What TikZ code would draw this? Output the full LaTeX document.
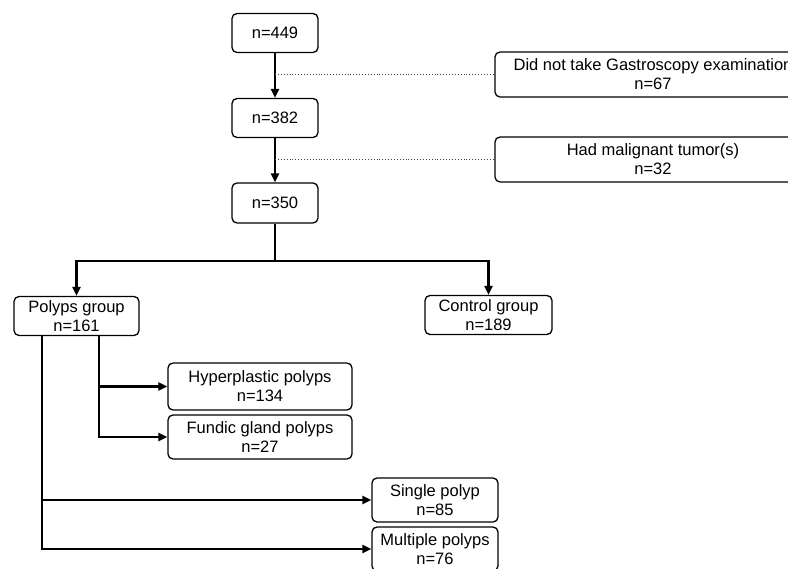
\documentclass[tikz,border=0pt]{standalone}
\usepackage{fontspec}
\setmainfont{Liberation Sans}
\usetikzlibrary{arrows.meta}
\tikzset{
	box/.style={draw, rounded corners=5pt, line width=1.3pt, align=center, inner sep=0pt, font=\fontsize{16.5}{19}\selectfont},
	arr/.style={line width=2.5pt, -{Triangle[length=9pt,width=8pt]}},
	trunk/.style={line width=2.5pt},
	dotline/.style={dotted, line width=0.9pt, black!75}
}

\begin{document}
\begin{tikzpicture}[x=1pt, y=-1pt]
			%%%%% START %%%%%
			\useasboundingbox (0,0) rectangle (788,569);
			
			\node[box, minimum width=86pt, minimum height=39pt] (n449) at (275,33) {n=449};
			\node[box, minimum width=86pt, minimum height=39pt] (n382) at (275,118) {n=382};
			\node[box, minimum width=86pt, minimum height=40pt] (n350) at (275,203) {n=350};
			
			\node[box, minimum width=316pt, minimum height=45pt] (nogastro) at (653,74.5) {Did not take Gastroscopy examination\\n=67};
			\node[box, minimum width=316pt, minimum height=45pt] (tumor) at (653,159.5) {Had malignant tumor(s)\\n=32};
			
			\node[box, minimum width=125pt, minimum height=39pt] (polyps) at (76.5,316) {Polyps group\\n=161};
			\node[box, minimum width=127pt, minimum height=39pt] (control) at (488.5,315) {Control group\\n=189};
			
			\node[box, minimum width=184pt, minimum height=47pt] (hyper) at (260,386.5) {Hyperplastic polyps\\n=134};
			\node[box, minimum width=184pt, minimum height=44pt] (fundic) at (260,437) {Fundic gland polyps\\n=27};
			
			\node[box, minimum width=126pt, minimum height=44pt] (single) at (435,500) {Single polyp\\n=85};
			\node[box, minimum width=126pt, minimum height=44pt] (multi) at (435,549) {Multiple polyps\\n=76};
			
			% main trunk
			\draw[arr] (n449) -- (n382);
			\draw[arr] (n382) -- (n350);
			\draw[dotline] (n449.south |- nogastro.west) -- (nogastro.west);
			\draw[dotline] (n382.south |- tumor.west) -- (tumor.west);
			
			\coordinate (fork) at (275,261);
			\draw[trunk] (n350.south) -- (fork);
			\draw[arr] (fork) -| (polyps.north);
			\draw[arr] (fork) -| (control.north);
			
			% subgroups
			\coordinate (histo) at ([xshift=22.5pt]polyps.south);
			\coordinate (count) at ([xshift=-34.5pt]polyps.south);
			\draw[arr] (histo) |- (hyper.west);
			\draw[arr] (histo) |- (fundic.west);
			\draw[arr] (count) |- (single.west);
			\draw[arr] (count) |- (multi.west);
			
			%%%%% END %%%%%
\end{tikzpicture}
\end{document}
